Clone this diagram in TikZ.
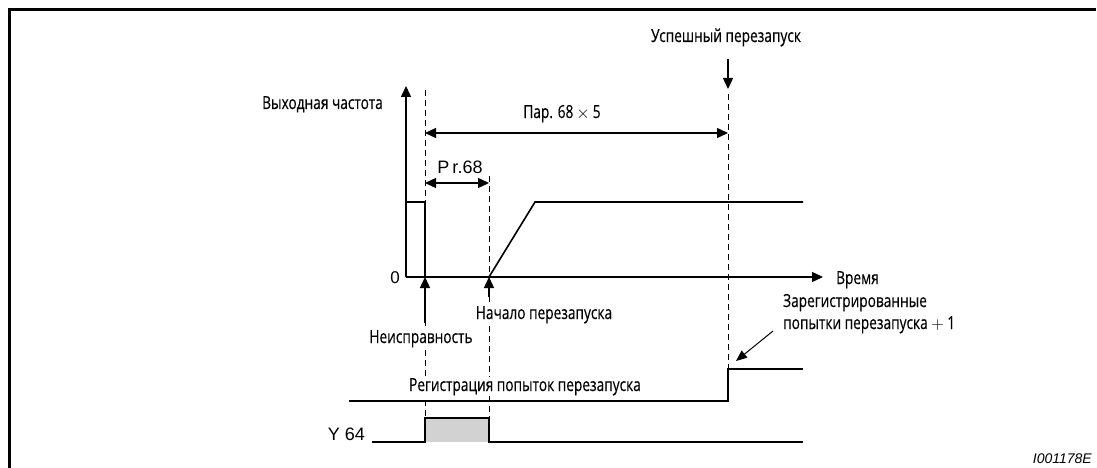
\documentclass[tikz,border=0pt]{standalone}
\usepackage{fontspec}
\setmainfont[FakeStretch=0.76, FakeBold=0.3]{Open Sans}
\newfontfamily\latfont{Liberation Sans}
\usetikzlibrary{arrows.meta}
\tikzset{
  lbl/.style={inner sep=1pt, fill=white, font=\fontsize{18}{21}\selectfont},
  latlbl/.style={inner sep=1pt, fill=white, font=\latfont\fontsize{18}{21}\selectfont},
  sig/.style={line width=1.6pt},
  guide/.style={line width=1pt, dash pattern=on 6pt off 4pt},
  tip/.style={-{Triangle[length=11pt, width=10pt]}},
  arr/.style={line width=1.4pt, tip},
  darr/.style={line width=1.4pt, {Triangle[length=11pt, width=10pt]}-{Triangle[length=11pt, width=10pt]}},
  frameline/.style={line width=3pt},
}
\begin{document}
\begin{tikzpicture}[x=1pt, y=-1pt]
\useasboundingbox (0,0) rectangle (1097,468);
% frame
\coordinate (fTR) at (1096,10);
\coordinate (fBL) at (9,468);
\draw[frameline] (fTR) -- (9,10) -- (fBL);

% key coordinates
\coordinate (O) at (406,277);
\coordinate (Ytop) at (406,86);
\coordinate (Tend) at (823,277);
\coordinate (F0) at (425,277);
\coordinate (R0) at (489,277);

% dashed guides
\coordinate (g1a) at (425,90);  \coordinate (g1b) at (425,418);
\coordinate (g2a) at (489,176); \coordinate (g2b) at (489,418);
\coordinate (g3a) at (728,94);  \coordinate (g3b) at (728,369);
\draw[guide] (g1a) -- (g1b);
\draw[guide] (g2a) -- (g2b);
\draw[guide] (g3a) -- (g3b);

% axes
\draw[arr] (O) -- (Ytop);
\draw[arr] (O) -- (Tend);

% output frequency
\draw[sig] (O) -- (406,202) -- (425,202) -- (F0);
\draw[sig] (R0) -- (535,202) -- (803,202);

% register line
\coordinate (regL) at (349,401);
\coordinate (regR) at (803,369);
\draw[sig] (regL) -- (728,401) -- (728,369) -- (regR);

% Y64
\coordinate (yL) at (372,442);
\coordinate (yR) at (803,442);
\fill[gray!35] (425,418) rectangle (489,442);
\draw[sig] (yL) -- (425,442) -- (425,418) -- (489,418) -- (489,442) -- (yR);

% labels
\node[lbl, anchor=base east] (yl) at (384,109) {Выходная частота};
\node[lbl, anchor=base] (succ) at (726,42) {Успешный перезапуск};
\node[lbl, anchor=base] (p5) at (562,118) {Пар. 68\,$\times$\,5};
\node[latlbl, anchor=base, fill=none] (pr) at (460,173) {P\,r.68};
\node[latlbl, anchor=base east, font=\latfont\fontsize{17}{20}\selectfont] (zero) at (401,283) {0};
\node[lbl, anchor=base west] (time) at (835,284) {Время};
\node[lbl, anchor=base west, align=left] (reg1) at (782,307) {Зарегистрированные};
\node[lbl, anchor=base west, align=left] (reg2) at (782,329) {попытки перезапуска $+$ 1};
\node[lbl, anchor=base] (start) at (544,319) {Начало перезапуска};
\node[lbl, anchor=base] (fault) at (421,343) {Неисправность};
\node[lbl, anchor=base] (regt) at (525,391) {Регистрация попыток перезапуска};
\node[latlbl, anchor=base east, fill=none] (y64) at (366,440) {Y 64};
\node[anchor=base east, inner sep=0pt, font=\latfont\itshape\fontsize{14}{16}\selectfont] (code) at (1092,463) {I001178E};

% arrows
\coordinate (succTop) at (728,59);
\coordinate (succTip) at (728,89);
\draw[arr] (succTop) -- (succTip);
\coordinate (faultBot) at (425,323);
\draw[arr] (faultBot) -- (F0);
\coordinate (startBot) at (489,297);
\draw[arr] (startBot) -- (R0);
\draw[darr] (425,133) -- (728,133);
\draw[darr] (425,183) -- (489,183);
\coordinate (annA) at (773,331);
\coordinate (annB) at (736,361);
\draw[line width=1pt, -{Triangle[length=11pt, width=9pt]}] (annA) -- (annB);
\end{tikzpicture}
\end{document}
